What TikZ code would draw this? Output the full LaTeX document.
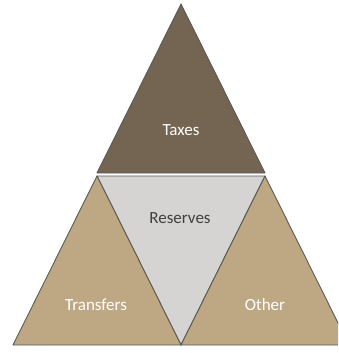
\documentclass[tikz,border=0pt]{standalone}
\usepackage{fontspec}
\setmainfont{Carlito}
\definecolor{taxbrown}{HTML}{736551}
\definecolor{sidetan}{HTML}{BEA883}
\definecolor{resgray}{HTML}{D6D4D2}
\begin{document}
\begin{tikzpicture}[x=1pt,y=-1pt,line join=round]
\tikzset{piece/.style={draw=black!65,line width=0.9pt},
  lbl/.style={font=\fontsize{17}{20}\selectfont}}
\useasboundingbox (0,0) rectangle (338,353);
\clip (0,0) rectangle (338,353);
% top triangle
\filldraw[piece,fill=taxbrown] (181,4)--(265,173)--(97,173)--cycle;
% bottom row
\filldraw[piece,fill=resgray] (97,176)--(265,176)--(181,345)--cycle;
\filldraw[piece,fill=sidetan] (97,176)--(181,345)--(13,345)--cycle;
\filldraw[piece,fill=sidetan] (265,176)--(349,345)--(181,345)--cycle;
\node[lbl,text=white] (taxes) at (181,130) {Taxes};
\node[lbl,text=black!75] (reserves) at (180,218) {Reserves};
\node[lbl,text=white] (transfers) at (96,305) {Transfers};
\node[lbl,text=white] (other) at (265,305) {Other};
\end{tikzpicture}
\end{document}
